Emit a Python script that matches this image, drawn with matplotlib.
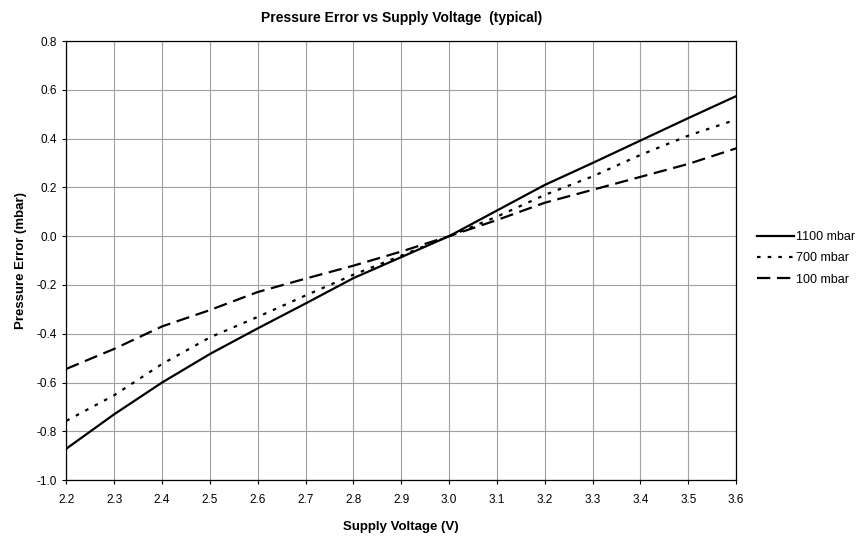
import matplotlib.pyplot as plt

plt.rcParams['font.family'] = ['Liberation Sans', 'DejaVu Sans']

voltage = [2.2, 2.3, 2.4, 2.5, 2.6, 2.7, 2.8, 2.9, 3.0, 3.1, 3.2, 3.3, 3.4, 3.5, 3.6]
err_1100 = [-0.871, -0.73, -0.60, -0.483, -0.378, -0.276, -0.172, -0.086, 0.0,
            0.105, 0.21, 0.30, 0.392, 0.484, 0.574]
err_700 = [-0.757, -0.652, -0.524, -0.415, -0.331, -0.243, -0.158, -0.08, 0.0,
           0.08, 0.169, 0.245, 0.333, 0.412, 0.478]
err_100 = [-0.544, -0.462, -0.370, -0.303, -0.229, -0.174, -0.121, -0.063, 0.0,
           0.066, 0.137, 0.19, 0.243, 0.296, 0.36]

fig = plt.figure(figsize=(8.66, 5.37), dpi=100)
ax = fig.add_axes([0.0767, 0.106, 0.7733, 0.8176])

ax.plot(voltage, err_1100, color='black', lw=1.6, label='1100 mbar')
ax.plot(voltage, err_700, color='black', lw=1.6, linestyle=(0, (1.6, 3.2)), label='700 mbar')
ax.plot(voltage, err_100, color='black', lw=1.6, linestyle=(0, (6, 3)), label='100 mbar')

ax.set_xlim(2.2, 3.6)
ax.set_ylim(-1.0, 0.8)
ax.set_xticks([2.2 + 0.1 * i for i in range(15)])
ax.set_xticklabels(['%.1f' % (2.2 + 0.1 * i) for i in range(15)])
ax.set_yticks([-1.0 + 0.2 * i for i in range(10)])
ax.set_yticklabels(['%.1f' % (-1.0 + 0.2 * i) for i in range(10)])
ax.grid(True, color='#a0a0a0', lw=0.8)
ax.set_axisbelow(True)
ax.tick_params(direction='out', length=3, width=0.8, labelsize=8.5, pad=4)
ax.tick_params(axis='x', pad=7)
for s in ax.spines.values():
    s.set_color('black')
    s.set_linewidth(0.9)

ax.set_title('Pressure Error vs Supply Voltage  (typical)', fontsize=10, fontweight='bold', pad=14)
ax.set_xlabel('Supply Voltage (V)', fontsize=9.5, fontweight='bold', labelpad=11)
ax.set_ylabel('Pressure Error (mbar)', fontsize=9.5, fontweight='bold', labelpad=7)

ax.legend(loc='center left', bbox_to_anchor=(1.031, 0.505), frameon=False, fontsize=9,
          handlelength=3.0, handletextpad=0.15, labelspacing=0.75,
          borderaxespad=0, borderpad=0)

fig.savefig('out.png', dpi=100)
